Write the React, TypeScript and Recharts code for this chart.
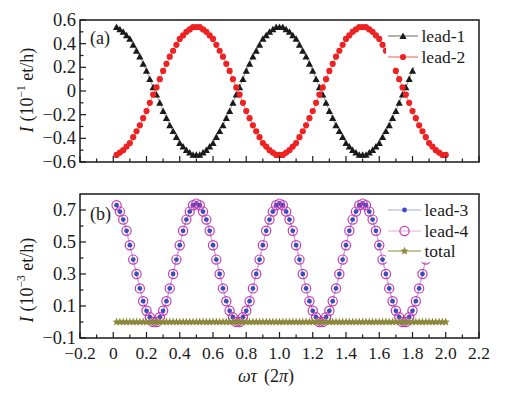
import { LineChart, Line, XAxis, YAxis, ReferenceArea, Legend } from 'recharts'

const FONT = '"Liberation Serif", "Times New Roman", serif'

// omega*tau in units of 2pi
const omegaTau = [
  0.02, 0.04, 0.06, 0.08, 0.1, 0.12, 0.14, 0.16, 0.18, 0.2,
  0.22, 0.24, 0.26, 0.28, 0.3, 0.32, 0.34, 0.36, 0.38, 0.4,
  0.42, 0.44, 0.46, 0.48, 0.5, 0.52, 0.54, 0.56, 0.58, 0.6,
  0.62, 0.64, 0.66, 0.68, 0.7, 0.72, 0.74, 0.76, 0.78, 0.8,
  0.82, 0.84, 0.86, 0.88, 0.9, 0.92, 0.94, 0.96, 0.98, 1.0,
  1.02, 1.04, 1.06, 1.08, 1.1, 1.12, 1.14, 1.16, 1.18, 1.2,
  1.22, 1.24, 1.26, 1.28, 1.3, 1.32, 1.34, 1.36, 1.38, 1.4,
  1.42, 1.44, 1.46, 1.48, 1.5, 1.52, 1.54, 1.56, 1.58, 1.6,
  1.62, 1.64, 1.66, 1.68, 1.7, 1.72, 1.74, 1.76, 1.78, 1.8,
  1.82, 1.84, 1.86, 1.88, 1.9, 1.92, 1.94, 1.96, 1.98, 2.0,
]

// panel (a), 10^-1 et/h
const lead1 = [
  0.54, 0.52, 0.50, 0.47, 0.44, 0.39, 0.34, 0.29, 0.23, 0.17,
  0.10, 0.03, -0.03, -0.10, -0.17, -0.23, -0.29, -0.34, -0.39, -0.44,
  -0.47, -0.50, -0.52, -0.54, -0.54, -0.54, -0.52, -0.50, -0.47, -0.44,
  -0.39, -0.34, -0.29, -0.23, -0.17, -0.10, -0.03, 0.03, 0.10, 0.17,
  0.23, 0.29, 0.34, 0.39, 0.44, 0.47, 0.50, 0.52, 0.54, 0.54,
  0.54, 0.52, 0.50, 0.47, 0.44, 0.39, 0.34, 0.29, 0.23, 0.17,
  0.10, 0.03, -0.03, -0.10, -0.17, -0.23, -0.29, -0.34, -0.39, -0.44,
  -0.47, -0.50, -0.52, -0.54, -0.54, -0.54, -0.52, -0.50, -0.47, -0.44,
  -0.39, -0.34, -0.29, -0.23, -0.17, -0.10, -0.03, 0.03, 0.10, 0.17,
  0.23, 0.29, 0.34, 0.39, 0.44, 0.47, 0.50, 0.52, 0.54, 0.54,
]

const lead2 = [
  -0.54, -0.52, -0.50, -0.47, -0.44, -0.39, -0.34, -0.29, -0.23, -0.17,
  -0.10, -0.03, 0.03, 0.10, 0.17, 0.23, 0.29, 0.34, 0.39, 0.44,
  0.47, 0.50, 0.52, 0.54, 0.54, 0.54, 0.52, 0.50, 0.47, 0.44,
  0.39, 0.34, 0.29, 0.23, 0.17, 0.10, 0.03, -0.03, -0.10, -0.17,
  -0.23, -0.29, -0.34, -0.39, -0.44, -0.47, -0.50, -0.52, -0.54, -0.54,
  -0.54, -0.52, -0.50, -0.47, -0.44, -0.39, -0.34, -0.29, -0.23, -0.17,
  -0.10, -0.03, 0.03, 0.10, 0.17, 0.23, 0.29, 0.34, 0.39, 0.44,
  0.47, 0.50, 0.52, 0.54, 0.54, 0.54, 0.52, 0.50, 0.47, 0.44,
  0.39, 0.34, 0.29, 0.23, 0.17, 0.10, 0.03, -0.03, -0.10, -0.17,
  -0.23, -0.29, -0.34, -0.39, -0.44, -0.47, -0.50, -0.52, -0.54, -0.54,
]

// panel (b), 10^-3 et/h
const lead3 = [
  0.73, 0.69, 0.64, 0.57, 0.48, 0.39, 0.30, 0.21, 0.13, 0.07,
  0.03, 0.00, 0.00, 0.03, 0.07, 0.13, 0.21, 0.30, 0.39, 0.48,
  0.57, 0.64, 0.69, 0.73, 0.74, 0.73, 0.69, 0.64, 0.57, 0.48,
  0.39, 0.30, 0.21, 0.13, 0.07, 0.03, 0.00, 0.00, 0.03, 0.07,
  0.13, 0.21, 0.30, 0.39, 0.48, 0.57, 0.64, 0.69, 0.73, 0.74,
  0.73, 0.69, 0.64, 0.57, 0.48, 0.39, 0.30, 0.21, 0.13, 0.07,
  0.03, 0.00, 0.00, 0.03, 0.07, 0.13, 0.21, 0.30, 0.39, 0.48,
  0.57, 0.64, 0.69, 0.73, 0.74, 0.73, 0.69, 0.64, 0.57, 0.48,
  0.39, 0.30, 0.21, 0.13, 0.07, 0.03, 0.00, 0.00, 0.03, 0.07,
  0.13, 0.21, 0.30, 0.39, 0.48, 0.57, 0.64, 0.69, 0.73, 0.74,
]

// lead-4 sits right on top of lead-3 in the figure
const lead4 = lead3

const total = [
  0, 0, 0, 0, 0, 0, 0, 0, 0, 0, 0, 0, 0, 0, 0, 0, 0, 0, 0, 0, 0, 0, 0, 0, 0,
  0, 0, 0, 0, 0, 0, 0, 0, 0, 0, 0, 0, 0, 0, 0, 0, 0, 0, 0, 0, 0, 0, 0, 0, 0,
  0, 0, 0, 0, 0, 0, 0, 0, 0, 0, 0, 0, 0, 0, 0, 0, 0, 0, 0, 0, 0, 0, 0, 0, 0,
  0, 0, 0, 0, 0, 0, 0, 0, 0, 0, 0, 0, 0, 0, 0, 0, 0, 0, 0, 0, 0, 0, 0, 0, 0,
]

const xTicks = [
  -0.2, -0.1, 0, 0.1, 0.2, 0.3, 0.4, 0.5, 0.6, 0.7, 0.8, 0.9, 1.0,
  1.1, 1.2, 1.3, 1.4, 1.5, 1.6, 1.7, 1.8, 1.9, 2.0, 2.1, 2.2,
]
const yTicksTop = [-0.6, -0.5, -0.4, -0.3, -0.2, -0.1, 0, 0.1, 0.2, 0.3, 0.4, 0.5, 0.6]
const yTicksBottom = [-0.1, 0, 0.1, 0.2, 0.3, 0.4, 0.5, 0.6, 0.7]

const topRows = omegaTau.map((x, i) => ({ x, lead1: lead1[i], lead2: lead2[i] }))
const bottomRows = omegaTau.map((x, i) => ({ x, lead3: lead3[i], lead4: lead4[i], total: total[i] }))

const INK = '#1a1a1a'
const RED = '#ee2222'
const BLUE = '#3b4cc0'
const MAGENTA = '#c23cb2'
const OLIVE = '#8c883a'

function fmt(v: number): string {
  if (Math.abs(v) < 1e-9) return '0'
  return (v < 0 ? '\u2212' : '') + Math.abs(v).toFixed(1)
}

function starPoints(cx: number, cy: number, R: number, r: number): string {
  const pts: string[] = []
  for (let i = 0; i < 10; i++) {
    const a = -Math.PI / 2 + (i * Math.PI) / 5
    const rad = i % 2 === 0 ? R : r
    pts.push(`${cx + rad * Math.cos(a)},${cy + rad * Math.sin(a)}`)
  }
  return pts.join(' ')
}

function Marker({ kind, cx, cy }: { kind: string; cx: number; cy: number }) {
  if (kind === 'triangle') {
    const s = 3.6
    return <polygon points={`${cx},${cy - s} ${cx + s},${cy + s * 0.8} ${cx - s},${cy + s * 0.8}`} fill={INK} />
  }
  if (kind === 'redDot') return <circle cx={cx} cy={cy} r={3.1} fill={RED} />
  if (kind === 'blueDot') return <circle cx={cx} cy={cy} r={2.4} fill={BLUE} />
  if (kind === 'ring') return <circle cx={cx} cy={cy} r={4.6} fill="none" stroke={MAGENTA} strokeWidth={1.2} />
  return <polygon points={starPoints(cx, cy, 4.4, 1.9)} fill={OLIVE} />
}

const dotOf = (kind: string) => (p: any) => {
  if (p.cx == null || p.cy == null) return <g key={p.index} />
  return <Marker key={p.index} kind={kind} cx={p.cx} cy={p.cy} />
}

function XTick({ x, y, payload, showLabel }: any) {
  const v = payload.value
  const major = Math.round(v * 10) % 2 === 0
  return (
    <g>
      <line x1={x} x2={x} y1={y} y2={y - (major ? 6 : 3.5)} stroke={INK} strokeWidth={1.2} />
      {showLabel && major && (
        <text x={x} y={y + 15} textAnchor="middle" dominantBaseline="central" fontFamily={FONT} fontSize={17.5} fill={INK}>
          {fmt(v)}
        </text>
      )}
    </g>
  )
}

function YTick({ x, y, payload, oddMajor }: any) {
  const v = payload.value
  const n = Math.round(v * 10)
  const major = oddMajor ? Math.abs(n) % 2 === 1 : n % 2 === 0
  return (
    <g>
      <line x1={x} x2={x + (major ? 6 : 3.5)} y1={y} y2={y} stroke={INK} strokeWidth={1.2} />
      {major && (
        <text x={x - 4} y={y} textAnchor="end" dominantBaseline="central" fontFamily={FONT} fontSize={18.5} fill={INK}>
          {fmt(v)}
        </text>
      )}
    </g>
  )
}

interface LegendItem {
  name: string
  line: string
  marker: string
}

const topLegend: LegendItem[] = [
  { name: 'lead-1', line: '#808080', marker: 'triangle' },
  { name: 'lead-2', line: '#f07a6a', marker: 'redDot' },
]

const bottomLegend: LegendItem[] = [
  { name: 'lead-3', line: '#a3abe2', marker: 'blueDot' },
  { name: 'lead-4', line: '#e8a8e4', marker: 'ring' },
  { name: 'total', line: OLIVE, marker: 'star' },
]

function LegendBox({ items, lineW }: { items: LegendItem[]; lineW: number }) {
  return (
    <div style={{ background: '#fff', paddingTop: 4, fontFamily: FONT, fontSize: 17.5, color: INK }}>
      {items.map(it => (
        <div key={it.name} style={{ display: 'flex', alignItems: 'center', height: 20.5 }}>
          <svg width={lineW} height={20} style={{ marginLeft: 1.5, overflow: 'visible' }}>
            <line x1={0} x2={lineW} y1={10} y2={10} stroke={it.line} strokeWidth={1.2} />
            <Marker kind={it.marker} cx={lineW / 2} cy={10} />
          </svg>
          <span style={{ marginLeft: 4, lineHeight: '20px' }}>{it.name}</span>
        </div>
      ))}
    </div>
  )
}

function TopPanel() {
  return (
    <LineChart width={511} height={172} data={topRows} margin={{ top: 20, right: 32, bottom: 0, left: 0 }}>
      <XAxis
        type="number"
        dataKey="x"
        domain={[-0.2, 2.2]}
        ticks={xTicks}
        interval={0}
        height={10}
        axisLine={false}
        tickLine={false}
        tickSize={0}
        tickMargin={0}
        tick={(p: any) => <XTick {...p} showLabel={false} />}
      />
      <YAxis
        type="number"
        domain={[-0.6, 0.6]}
        ticks={yTicksTop}
        interval={0}
        width={80}
        axisLine={false}
        tickLine={false}
        tickSize={0}
        tickMargin={0}
        tick={(p: any) => <YTick {...p} oddMajor={false} />}
      />
      <ReferenceArea x1={-0.2} x2={2.2} y1={-0.6} y2={0.6} fill="none" stroke={INK} strokeWidth={1.5} fillOpacity={0} />
      <Line dataKey="lead1" stroke="#7a7a7a" strokeWidth={0.8} dot={dotOf('triangle')} activeDot={false} isAnimationActive={false} />
      <Line dataKey="lead2" stroke="#f07a6a" strokeWidth={0.8} dot={dotOf('redDot')} activeDot={false} isAnimationActive={false} />
      <Legend
        layout="vertical"
        align="center"
        verticalAlign="middle"
        content={() => <LegendBox items={topLegend} lineW={30} />}
        wrapperStyle={{ left: 386, top: 22, width: 92 }}
      />
    </LineChart>
  )
}

function BottomPanel() {
  return (
    <LineChart width={511} height={213} data={bottomRows} margin={{ top: 14, right: 32, bottom: 0, left: 0 }}>
      <XAxis
        type="number"
        dataKey="x"
        domain={[-0.2, 2.2]}
        ticks={xTicks}
        interval={0}
        height={55}
        axisLine={false}
        tickLine={false}
        tickSize={0}
        tickMargin={0}
        tick={(p: any) => <XTick {...p} showLabel />}
      />
      <YAxis
        type="number"
        domain={[-0.1, 0.8]}
        ticks={yTicksBottom}
        interval={0}
        width={80}
        axisLine={false}
        tickLine={false}
        tickSize={0}
        tickMargin={0}
        tick={(p: any) => <YTick {...p} oddMajor />}
      />
      <ReferenceArea x1={-0.2} x2={2.2} y1={-0.1} y2={0.8} fill="none" stroke={INK} strokeWidth={1.5} fillOpacity={0} />
      <Line dataKey="lead3" stroke="#a3abe2" strokeWidth={1} dot={dotOf('blueDot')} activeDot={false} isAnimationActive={false} />
      <Line dataKey="lead4" stroke="#e2a0de" strokeWidth={1} dot={dotOf('ring')} activeDot={false} isAnimationActive={false} />
      <Line dataKey="total" stroke={OLIVE} strokeWidth={1} dot={dotOf('star')} activeDot={false} isAnimationActive={false} />
      <Legend
        layout="vertical"
        align="center"
        verticalAlign="middle"
        content={() => <LegendBox items={bottomLegend} lineW={33} />}
        wrapperStyle={{ left: 386, top: 16, width: 92 }}
      />
    </LineChart>
  )
}

export default function App() {
  return (
    <div style={{ position: 'absolute', left: 0, top: 0, width: 511, height: 393, background: '#fff' }}>
      <div style={{ position: 'absolute', left: 0, top: 0 }}>
        <TopPanel />
      </div>
      <div style={{ position: 'absolute', left: 0, top: 180 }}>
        <BottomPanel />
      </div>
      <svg width={511} height={393} style={{ position: 'absolute', left: 0, top: 0, pointerEvents: 'none' }}>
        <g fontFamily={FONT} fontSize={18} fill={INK}>
          <text x={90} y={38} dominantBaseline="central">(a)</text>
          <text x={90} y={214} dominantBaseline="central">(b)</text>
          <text transform="translate(27,90) rotate(-90)" textAnchor="middle" dominantBaseline="central">
            <tspan fontStyle="italic">I</tspan>
            <tspan dx={5}>(10</tspan>
            <tspan dy={-6} fontSize={11.5}>{'\u22121'}</tspan>
            <tspan dy={6}>{' et/h)'}</tspan>
          </text>
          <text transform="translate(27,280) rotate(-90)" textAnchor="middle" dominantBaseline="central">
            <tspan fontStyle="italic">I</tspan>
            <tspan dx={5}>(10</tspan>
            <tspan dy={-6} fontSize={11.5}>{'\u22123'}</tspan>
            <tspan dy={6}>{' et/h)'}</tspan>
          </text>
          <text x={266} y={376} textAnchor="middle" dominantBaseline="central">
            <tspan fontStyle="italic">{'\u03c9\u03c4'}</tspan>
            <tspan dx={7}>(2</tspan>
            <tspan fontStyle="italic">{'\u03c0'}</tspan>
            <tspan>)</tspan>
          </text>
        </g>
      </svg>
    </div>
  )
}
